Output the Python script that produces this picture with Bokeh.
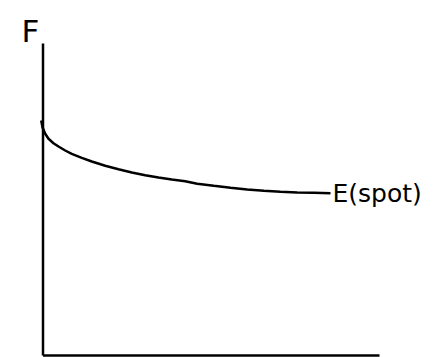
from bokeh.plotting import figure
from bokeh.models import Range1d
from bokeh.core.properties import value
from bokeh.embed import file_html
from bokeh.resources import INLINE

# Curve: expected spot price E(spot) (arbitrary units)
t = [40.7, 42, 44.7, 48, 53, 58, 64.7, 71.3, 81.3, 91.3, 104.7, 118, 131.3, 144.7,
     158, 171.3, 184.7, 196.7, 213.3, 230, 246.7, 263.3, 280, 296.7, 313.3, 330]
forward = [237, 230.3, 223.7, 218.7, 214.3, 211, 207, 203.7, 199.7, 196, 191.7, 188.3,
           185, 182.3, 180, 178, 176.3, 173.7, 171.7, 169.7, 168, 166.7, 165.7, 165,
           164.7, 164.3]

# Axis lines (arbitrary units)
axis_x0 = [42.5, 42.5]
axis_y0 = [2, 2]
axis_x1 = [42.5, 379]
axis_y1 = [314, 2]

labels = ["F", "E(spot)"]

p = figure(width=446, height=357, output_backend="svg", toolbar_location=None,
           x_range=Range1d(0, 446), y_range=Range1d(0, 357), min_border=0)
p.axis.visible = False
p.grid.visible = False
p.outline_line_color = None
p.background_fill_color = "white"
p.border_fill_color = "white"

p.segment(x0=axis_x0, y0=axis_y0, x1=axis_x1, y1=axis_y1,
          line_color="black", line_width=2.5)
p.line(t, forward, line_color="black", line_width=2.5)

p.text(x=[21], y=[327], text=[labels[0]], text_font=value("DejaVu Sans"),
       text_font_size="31px", text_baseline="alphabetic", text_color="black")
p.text(x=[t[-1] + 2], y=[forward[-1]], text=[labels[1]], text_font=value("DejaVu Sans"),
       text_font_size="25px", text_baseline="alphabetic", text_color="black")

open("out.html", "w").write(file_html(p, INLINE))
